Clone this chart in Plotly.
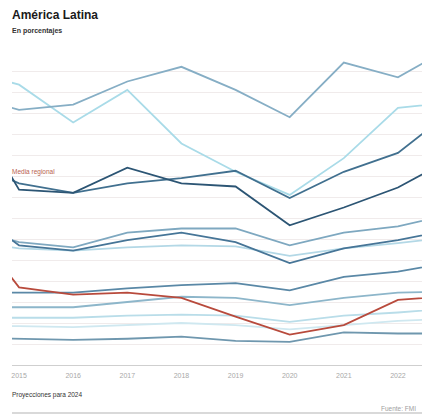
import plotly.graph_objects as go

years = [2014, 2015, 2016, 2017, 2018, 2019, 2020, 2021, 2022, 2023]

serie_a = [25.7, 24.3, 24.8, 27.0, 28.4, 26.2, 23.6, 28.8, 27.4, 30.3]
serie_b = [28.1, 26.7, 23.1, 26.2, 21.1, 18.4, 16.2, 19.7, 24.5, 25.0]
serie_c = [25.4, 16.7, 16.4, 18.8, 17.3, 17.0, 13.3, 15.0, 16.9, 19.7]
serie_d = [19.5, 17.3, 16.4, 17.3, 17.8, 18.5, 15.9, 18.4, 20.2, 24.2]
serie_e = [15.1, 11.4, 10.9, 11.9, 12.6, 11.7, 9.7, 11.1, 11.9, 12.9]
serie_f = [13.1, 11.7, 11.2, 12.6, 13.0, 13.0, 11.4, 12.6, 13.2, 14.4]
serie_g = [11.9, 11.1, 10.9, 11.2, 11.4, 11.3, 10.4, 11.1, 11.6, 12.2]
serie_h = [6.9, 6.9, 6.9, 7.3, 7.6, 7.8, 7.1, 8.4, 8.9, 9.8]
serie_i = [5.5, 5.5, 5.5, 6.0, 6.5, 6.4, 5.7, 6.4, 6.9, 7.0]
serie_j = [4.5, 4.5, 4.5, 4.7, 4.8, 4.7, 4.1, 4.7, 5.0, 5.4]
serie_k = [3.7, 3.7, 3.6, 3.8, 4.0, 3.8, 3.4, 3.8, 4.2, 4.4]
serie_l = [2.6, 2.5, 2.4, 2.5, 2.7, 2.3, 2.2, 3.1, 3.0, 3.0]
serie_roja = [14.0, 7.4, 6.7, 6.9, 6.4, 4.6, 2.9, 3.8, 6.2, 6.6]

tick_years = [2015, 2016, 2017, 2018, 2019, 2020, 2021, 2022, 2023]

series = [
    (serie_k, "#cfe8f0"),
    (serie_j, "#b9dde9"),
    (serie_g, "#b3d8e6"),
    (serie_b, "#a9dbe8"),
    (serie_i, "#8db6ca"),
    (serie_f, "#7ea8c0"),
    (serie_a, "#86aec5"),
    (serie_l, "#6f97ae"),
    (serie_h, "#5a88a6"),
    (serie_e, "#467597"),
    (serie_d, "#41708f"),
    (serie_c, "#2c5574"),
    (serie_roja, "#b84a3c"),
]

fig = go.Figure()
for vals, col in series:
    fig.add_trace(go.Scatter(x=years, y=vals, mode="lines",
                             line=dict(color=col, width=1.8),
                             showlegend=False, hoverinfo="skip"))

# page body has an 8px margin; svg coordinates = page - 8
OFF = 8
W, H = 430, 416
L, R, T, B = 4, 0, 42, 59
pw = W - L - R
ph = H - T - B

def px(page_x):
    return (page_x - OFF - L) / pw

def py(page_y):
    return (H - B - (page_y - OFF)) / ph

font = "Liberation Sans, Arial, sans-serif"

fig.update_layout(
    width=W, height=H,
    margin=dict(l=L, r=R, t=T, b=B),
    paper_bgcolor="white", plot_bgcolor="white",
    font=dict(family=font),
    xaxis=dict(range=[2014.87, 2022.74], tickvals=tick_years,
               ticktext=[str(y) for y in tick_years],
               showgrid=False, zeroline=False,
               showline=True, linecolor="#cfcfcf", linewidth=1,
               ticks="outside", ticklen=4, tickcolor="rgba(0,0,0,0)",
               tickfont=dict(size=7, color="#a8a8a8")),
    yaxis=dict(range=[0, 30], dtick=2, showgrid=True,
               gridcolor="#f0ebeb", gridwidth=1,
               zeroline=False, showticklabels=False),
    annotations=[
        dict(text="<b>América Latina</b>", xref="paper", yref="paper",
             x=px(10), y=py(15), xanchor="left", yanchor="middle",
             showarrow=False, font=dict(size=12, color="#1a1a1a")),
        dict(text="<b>En porcentajes</b>", xref="paper", yref="paper",
             x=px(10), y=py(31), xanchor="left", yanchor="middle",
             showarrow=False, font=dict(size=7, color="#333333")),
        dict(text="Media regional", xref="paper", yref="paper",
             x=px(10), y=py(172), xanchor="left", yanchor="middle",
             showarrow=False, font=dict(size=6.5, color="#b8624f")),
        dict(text="Proyecciones para 2024", xref="paper", yref="paper",
             x=px(10), y=py(395), xanchor="left", yanchor="middle",
             showarrow=False, font=dict(size=6.5, color="#333333")),
        dict(text="Fuente: FMI", xref="paper", yref="paper",
             x=px(418), y=py(408), xanchor="right", yanchor="middle",
             showarrow=False, font=dict(size=6.5, color="#a0a0a0")),
    ],
    shapes=[
        dict(type="line", xref="paper", yref="paper",
             x0=px(12), x1=px(440), y0=py(413), y1=py(413),
             line=dict(color="#cccccc", width=1.5)),
    ],
)

fig.write_html("out.html")
